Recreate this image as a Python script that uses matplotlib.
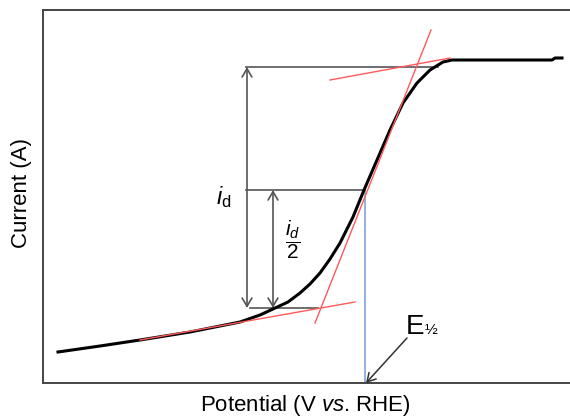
import numpy as np
import matplotlib.pyplot as plt

plt.rcParams['font.family'] = ['Liberation Sans', 'DejaVu Sans']
plt.rcParams['mathtext.fontset'] = 'custom'
plt.rcParams['mathtext.rm'] = 'Liberation Sans'
plt.rcParams['mathtext.it'] = 'Liberation Sans:italic'

# polarisation curve (arbitrary units)
potential = [58, 100, 140, 190, 240, 260, 273, 288, 300, 310, 320, 330, 340, 353,
             364, 377, 390, 403, 417, 430, 443, 452, 552, 555, 562]
current = [66, 72, 78, 86, 96, 103, 109, 116, 125, 134, 145, 159, 175, 201,
           228, 258, 288, 315, 335, 348, 356, 358, 358, 360, 360]

# tangent lines (red)
tangents = [
    ([140, 355], [78, 116]),   # baseline
    ([315, 431], [95, 388]),   # steep part
    ([330, 450], [338, 360]),  # plateau
]

# levels
i_lim = 351      # i_d level
i_half = 228     # i_d / 2 level
i_base = 110     # baseline
E_half = 365     # half-wave potential
x_arrow_d = 247
x_arrow_half = 273

fig = plt.figure(figsize=(5.70, 4.18), dpi=100)
ax = fig.add_axes([43/570, 35/418, 1 - 43/570, 373/418])
ax.set_xlim(43, 570)
ax.set_ylim(35, 408)

ax.plot(potential, current, color='black', lw=2.2, zorder=3)
for tx, ty in tangents:
    ax.plot(tx, ty, color='#ff5a5a', lw=1.0, zorder=4)

gray = '#555555'
ax.plot([x_arrow_d - 1, 438], [i_lim, i_lim], color=gray, lw=1.2)
ax.plot([x_arrow_d - 1, E_half], [i_half, i_half], color=gray, lw=1.2)
ax.plot([250, 318], [i_base, i_base], color=gray, lw=1.2)
ax.plot([E_half, E_half], [i_half, 35], color='#7fa6d8', lw=1.2, zorder=2)

arr = dict(arrowstyle='<->,head_length=0.6,head_width=0.35', color=gray, lw=1.2,
           shrinkA=0, shrinkB=0)
ax.annotate('', xy=(x_arrow_d, i_lim), xytext=(x_arrow_d, i_base), arrowprops=arr)
ax.annotate('', xy=(x_arrow_half, i_half), xytext=(x_arrow_half, i_base), arrowprops=arr)

ax.text(224, 221, r'$i_{\mathrm{d}}$', fontsize=17, ha='center', va='center')
ax.text(293, 178, r'$\dfrac{i_d}{2}$', fontsize=15, ha='center', va='center')

ax.annotate('', xy=(E_half + 1, 35), xytext=(407, 80),
            arrowprops=dict(arrowstyle='->,head_length=0.6,head_width=0.35',
                            color='#333333', lw=1.1, shrinkA=0, shrinkB=0))
ax.text(406, 84, 'E', fontsize=20, ha='left', va='baseline')
ax.text(425, 84, '½', fontsize=11, ha='left', va='baseline')

ax.set_xticks([])
ax.set_yticks([])
ax.spines['right'].set_visible(False)
for s in ['left', 'top', 'bottom']:
    ax.spines[s].set_color('#444444')
    ax.spines[s].set_linewidth(1.4)

fig.text(22/570, 1 - 193/418, 'Current (A)', rotation=90, fontsize=16,
         ha='center', va='center')
fig.text(305/570, 1 - 406/418, r'Potential (V $\mathit{vs}$. RHE)', fontsize=16,
         ha='center', va='center')

fig.savefig('out.png', dpi=100)
